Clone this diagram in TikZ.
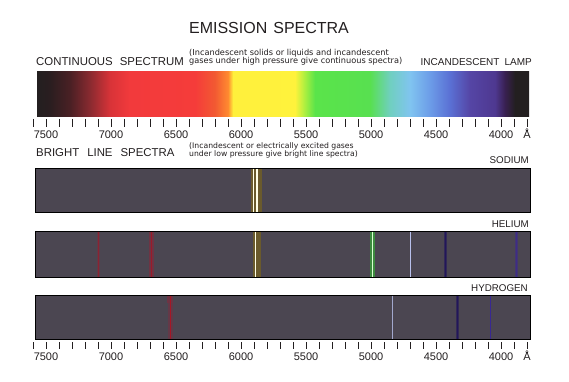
\documentclass[tikz,border=0pt]{standalone}
\usepackage{fontspec}
\setmainfont{Liberation Sans}
\newfontfamily\notefont{DejaVu Sans}
\definecolor{barfill}{HTML}{4B4651}
\definecolor{sodglow}{HTML}{6A5A2C}
\definecolor{linewhite}{HTML}{FFFFE6}
\definecolor{redcore}{HTML}{9A1A2A}
\definecolor{redglow}{HTML}{6E3444}
\definecolor{greenglow}{HTML}{3C8A3E}
\definecolor{greencore}{HTML}{D8FFD0}
\definecolor{paleblue}{HTML}{B8C0EC}
\definecolor{darkblue}{HTML}{22165A}
\definecolor{violet}{HTML}{3E2C86}
\definecolor{inkgray}{HTML}{231F20}
\pgfdeclarehorizontalshading{contspec}{100bp}{%
rgb(0bp)=(0.137,0.122,0.125);
rgb(25bp)=(0.137,0.122,0.125);
rgb(26.32bp)=(0.165,0.118,0.125);
rgb(28.35bp)=(0.29,0.125,0.141);
rgb(30.39bp)=(0.541,0.165,0.188);
rgb(32.42bp)=(0.847,0.2,0.22);
rgb(34.45bp)=(0.949,0.227,0.235);
rgb(41.06bp)=(0.961,0.235,0.227);
rgb(43.09bp)=(0.949,0.353,0.196);
rgb(44.41bp)=(1,0.541,0.188);
rgb(44.92bp)=(1,0.941,0.235);
rgb(51.22bp)=(1,0.949,0.235);
rgb(52.24bp)=(0.659,0.937,0.251);
rgb(53.25bp)=(0.353,0.894,0.29);
rgb(58.84bp)=(0.345,0.878,0.314);
rgb(60.88bp)=(0.439,0.812,0.753);
rgb(62.91bp)=(0.502,0.769,0.941);
rgb(64.94bp)=(0.424,0.612,0.91);
rgb(66.97bp)=(0.353,0.439,0.831);
rgb(69.01bp)=(0.333,0.271,0.647);
rgb(71.55bp)=(0.306,0.22,0.565);
rgb(72.56bp)=(0.22,0.125,0.314);
rgb(73.58bp)=(0.137,0.122,0.125);
rgb(75bp)=(0.137,0.122,0.125);
rgb(100bp)=(0.137,0.122,0.125)}
\begin{document}
\begin{tikzpicture}[x=1pt,y=-1pt,
  title/.style={font=\fontsize{16}{16}\selectfont, inner sep=0, text=inkgray},
  head/.style={font=\fontsize{11.4}{11}\selectfont, inner sep=0, anchor=base west, text=inkgray},
  note/.style={font=\notefont\fontsize{8.2}{8}\selectfont, inner sep=0, anchor=base west, text=inkgray},
  elem/.style={font=\fontsize{9.8}{10}\selectfont, inner sep=0, anchor=base east, text=inkgray},
  num/.style={font=\fontsize{11}{11}\selectfont, inner sep=0, anchor=base, text=inkgray},
  tickmark/.style={line width=0.9pt, draw=inkgray},
  darkbar/.style={fill=barfill, draw=black, line width=0.8pt},
]
\useasboundingbox[fill=white] (0,0) rectangle (569,382);

% title
\node[title] (title) at (269,28) {EMISSION\hspace{6pt}SPECTRA};

% continuous spectrum header
\node[head] (cont) at (36,66) {CONTINUOUS\hspace{7pt}SPECTRUM};
\node[note] (contnote1) at (189,56) {(Incandescent solids or liquids and incandescent};
\node[note] (contnote2) at (189,64) {gases under high pressure give continuous spectra)};
\node[head, anchor=base east, font=\fontsize{10}{10}\selectfont] (lamp) at (532,66) {INCANDESCENT\hspace{5pt}LAMP};

% continuous spectrum bar
\shade[shading=contspec] (37,72) rectangle (529,117);

% top scale
\foreach \i in {0,...,38}
  \draw[tickmark] ({33+13*\i},119) -- ({33+13*\i},127);
\foreach \i/\w in {1/7500,6/7000,11/6500,16/6000,21/5500,26/5000,31/4500,36/4000}
  \node[num] (top\w) at ({33+13*\i},139) {\w};
\node[num] (topA) at (527,139) {Å};

% bright line header
\node[head] (bright) at (36,157) {BRIGHT\hspace{8pt}LINE\hspace{8pt}SPECTRA};
\node[note, font=\notefont\fontsize{7.7}{8}\selectfont] (brightnote1) at (189,149) {(Incandescent or electrically excited gases};
\node[note, font=\notefont\fontsize{7.7}{8}\selectfont] (brightnote2) at (189,157) {under low pressure give bright line spectra)};

% sodium
\node[elem] (sodium) at (529,164) {SODIUM};
\filldraw[darkbar] (35,168) rectangle (530,212);
\fill[sodglow] (250.5,168.5) rectangle (262,211.5);
\draw[linewhite, line width=1.3pt] (253.3,168.5) -- (253.3,211.5);
\draw[linewhite, line width=1.3pt] (257,168.5) -- (257,211.5);

% helium
\node[elem] (helium) at (529,227) {HELIUM};
\filldraw[darkbar] (35,231) rectangle (530,277);
\fill[redglow, opacity=0.6] (96.5,231.5) rectangle (100,276.5);
\draw[redcore!80!barfill, line width=0.9pt] (98.3,231.5) -- (98.3,276.5);
\fill[redglow] (148.5,231.5) rectangle (154,276.5);
\draw[redcore, line width=1.2pt] (151.2,231.5) -- (151.2,276.5);
\fill[sodglow] (252.5,231.5) rectangle (261,276.5);
\draw[linewhite, line width=1.2pt] (255.6,231.5) -- (255.6,276.5);
\fill[greenglow] (370,231.5) rectangle (374.5,276.5);
\draw[greencore, line width=0.8pt] (372.2,231.5) -- (372.2,276.5);
\draw[paleblue, line width=0.9pt] (410.2,231.5) -- (410.2,276.5);
\fill[darkblue!60!barfill] (443.5,231.5) rectangle (447,276.5);
\draw[darkblue, line width=1.1pt] (445.3,231.5) -- (445.3,276.5);
\fill[violet!60!barfill] (514.5,231.5) rectangle (518,276.5);
\draw[violet, line width=1pt] (516.2,231.5) -- (516.2,276.5);

% hydrogen
\node[elem] (hydrogen) at (528,291) {HYDROGEN};
\filldraw[darkbar] (35,295) rectangle (530,339);
\fill[redglow] (167,295.5) rectangle (173,303);
\fill[redglow!70!barfill] (167.5,303) rectangle (172.5,338.5);
\draw[redcore!90!red, line width=1.4pt] (170.2,295.5) -- (170.2,338.5);
\draw[paleblue!80!barfill, line width=0.9pt] (392.8,295.5) -- (392.8,338.5);
\fill[darkblue!60!barfill] (455.5,295.5) rectangle (459,338.5);
\draw[darkblue, line width=1.1pt] (457.2,295.5) -- (457.2,338.5);
\draw[violet!90!blue, line width=1pt] (490.8,295.5) -- (490.8,338.5);

% bottom scale
\foreach \i in {0,...,38}
  \draw[tickmark] ({33+13*\i},342) -- ({33+13*\i},349);
\foreach \i/\w in {1/7500,6/7000,11/6500,16/6000,21/5500,26/5000,31/4500,36/4000}
  \node[num] (bot\w) at ({33+13*\i},360) {\w};
\node[num] (botA) at (527,360) {Å};
\end{tikzpicture}
\end{document}
